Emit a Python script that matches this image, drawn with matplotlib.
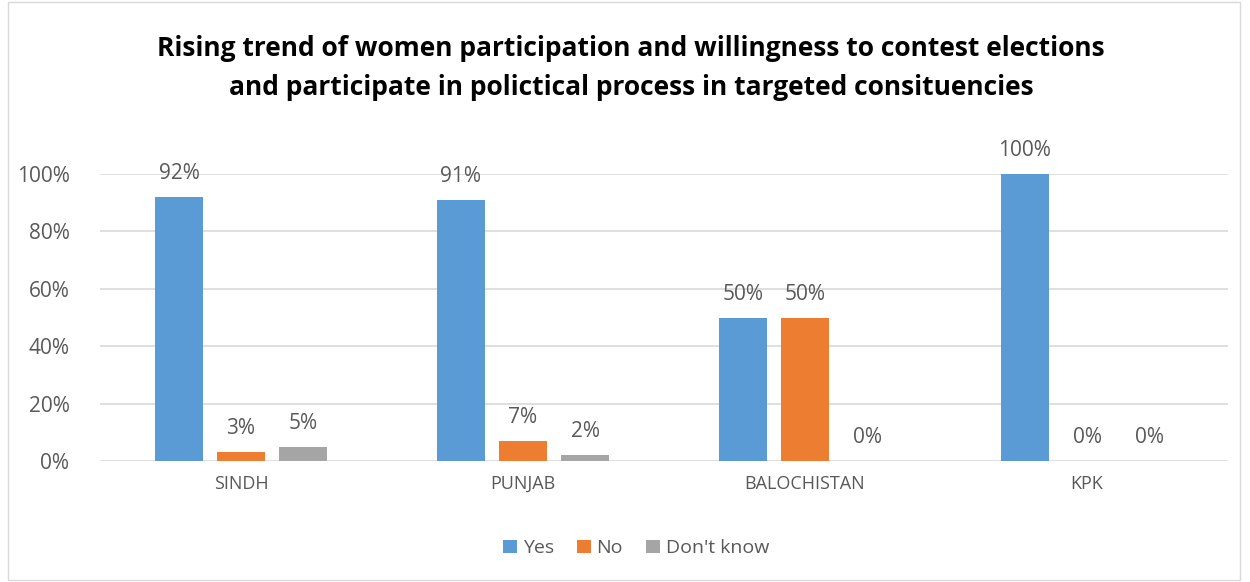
import numpy as np
import matplotlib
matplotlib.use("Agg")
import matplotlib.pyplot as plt
from matplotlib.patches import Rectangle

regions = ["SINDH", "PUNJAB", "BALOCHISTAN", "KPK"]
yes = [92, 91, 50, 100]
no = [3, 7, 50, 0]
dont_know = [5, 2, 0, 0]
series_names = ["Yes", "No", "Don't know"]
colors = ["#5B9BD5", "#ED7D31", "#A5A5A5"]

title = ("Rising trend of women participation and willingness to contest elections\n"
         "and participate in polictical process in targeted consituencies")

plt.rcParams["font.family"] = ["Open Sans", "DejaVu Sans"]
text_color = "#595959"

fig = plt.figure(figsize=(12.5, 5.82), dpi=100)
ax = fig.add_axes([0.08, 0.2079, 0.9024, 0.4931])

# chart frame
fig.patches.append(Rectangle((0.006, 0.003), 0.986, 0.994, transform=fig.transFigure,
                             fill=False, edgecolor="#D9D9D9", linewidth=1))

x = np.arange(len(regions))
width = 0.17
offset = 0.22
for i, (vals, name, col) in enumerate(zip([yes, no, dont_know], series_names, colors)):
    pos = x + (i - 1) * offset
    bars = ax.bar(pos, vals, width, color=col, label=name, zorder=3)
    for b, v in zip(bars, vals):
        ax.text(b.get_x() + b.get_width() / 2, v + 4.5, f"{v}%", ha="center", va="bottom",
                fontsize=15, color=text_color)

ax.set_xlim(-0.5, len(regions) - 0.5)
ax.set_ylim(0, 100)
ax.set_yticks(range(0, 101, 20))
ax.set_yticklabels([f"{t}%" for t in range(0, 101, 20)])
ax.set_xticks(x)
ax.set_xticklabels(regions)
ax.tick_params(axis="both", length=0, labelsize=15, labelcolor=text_color)
ax.tick_params(axis="x", pad=10, labelsize=13)
ax.tick_params(axis="y", pad=22)
ax.grid(axis="y", color="#D9D9D9", linewidth=1.2, zorder=0)
for s in ax.spines.values():
    s.set_visible(False)

fig.text(0.505, 0.883, title, ha="center", va="center", fontsize=19, fontweight="bold",
         color="#000000", linespacing=1.55)

fig.legend(loc="center", bbox_to_anchor=(0.509, 0.058), ncol=3, frameon=False,
           fontsize=14, labelcolor=text_color, handlelength=0.7, handleheight=0.7,
           handletextpad=0.3, columnspacing=1.2)

fig.savefig("out.png", dpi=100)
